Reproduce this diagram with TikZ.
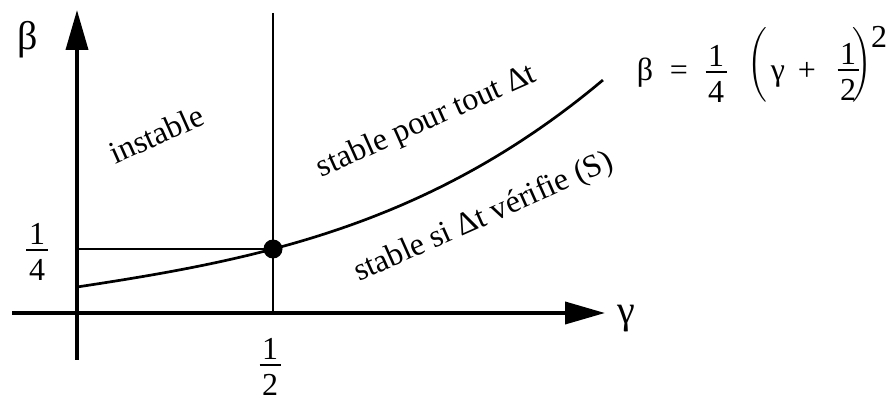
\documentclass[tikz,border=0pt]{standalone}
\usepackage{amsmath}
\usepackage{fontspec}
\setmainfont{Liberation Serif}
\usetikzlibrary{arrows.meta}
\newcommand\myfr[2]{\vbox{\offinterlineskip\halign{\hfil##\hfil\cr #1\cr\noalign{\kern4pt}\rule{21pt}{2.2pt}\cr\noalign{\kern8pt}#2\cr}}}
\begin{document}
\begin{tikzpicture}[x=1pt,y=-1pt,
  txt/.style={font=\fontsize{32}{38}\selectfont, inner sep=0pt},
  big/.style={font=\fontsize{40}{48}\selectfont, inner sep=0pt},
  axisline/.style={line width=3.8pt, -{Triangle[length=40pt,width=22pt]}},
  guide/.style={line width=2.3pt},
  curve/.style={line width=2.7pt}]
\useasboundingbox (0,0) rectangle (895,403);
% axes
\coordinate (ybot) at (77,360);
\coordinate (ytop) at (77,10);
\coordinate (xl) at (12,313);
\coordinate (xr) at (605,313);
\draw[axisline] (ybot) -- (ytop);
\draw[axisline] (xl) -- (xr);
% point and guides
\node[circle, fill, inner sep=0pt, minimum size=19pt] (P) at (273,249) {};
\coordinate (vtop) at (273,13);
\coordinate (vbot) at (273,315);
\coordinate (hl) at (77,249);
\draw[guide] (vtop) -- (vbot);
\draw[guide] (hl) -- (P.center);
% curve
\draw[curve] plot[domain=0:5.26, samples=60, smooth]
  ({77+100*\x}, {313-(26+15.167*\x+0.7016*\x*\x+0.7408*\x*\x*\x)});
% axis labels
\node[big, anchor=base] (lb) at (28,50) {β};
\node[big, anchor=base] (lg) at (626,324) {γ};
\node[txt] (q) at (37,252) {\myfr{1}{4}};
\node[txt] (h) at (270,367) {\myfr{1}{2}};
% region labels
\node[txt, rotate=24, anchor=base] (ri) at (161,144) {instable};
\node[txt, rotate=24, anchor=base] (rs) at (430,129) {stable pour tout Δt};
\node[txt, rotate=24, anchor=base] (rc) at (487,225) {stable si Δt vérifie (S)};
% formula
\node[txt, anchor=base] (fb) at (645,81) {β};
\node[txt] (fe) at (679,73) {=};
\node[txt] (fq) at (716,74) {\myfr{1}{4}};
\node[txt] (flp) at (758,65) {$\left(\vcenter{\hrule height 70pt width 0pt}\right.$};
\node[txt, anchor=base] (fg) at (778,81) {γ};
\node[txt, anchor=base] (fp) at (807,81) {+};
\node[txt] (fh) at (848,72) {\myfr{1}{2}};
\node[txt] (frp) at (862,65) {$\left.\vcenter{\hrule height 70pt width 0pt}\right)$};
\node[txt] (fs) at (879,37) {2};
\end{tikzpicture}
\end{document}
